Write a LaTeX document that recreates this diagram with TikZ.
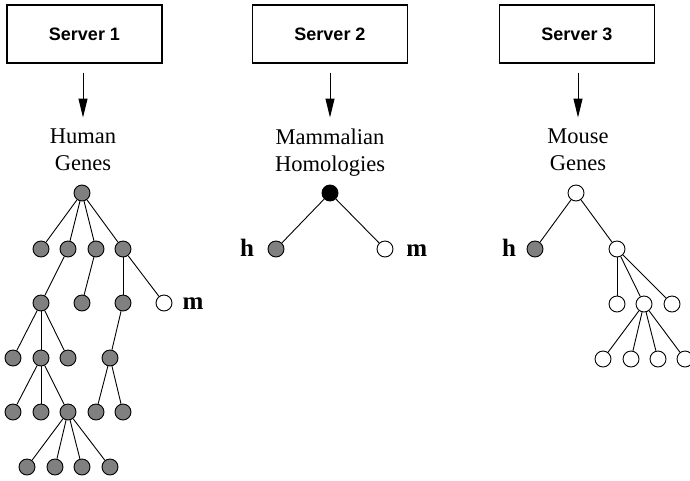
\documentclass[tikz,border=0pt]{standalone}
\usepackage{fontspec}
\setmainfont{Liberation Serif}
\setsansfont{Liberation Sans}
\usetikzlibrary{arrows.meta}
\definecolor{genegray}{RGB}{128,128,128}
\begin{document}
\begin{tikzpicture}[x=1pt,y=-1pt,
  server/.style={draw, line width=1.2pt, minimum width=155pt, minimum height=58pt,
    inner sep=0pt, font=\sffamily\bfseries\fontsize{18}{20}\selectfont},
  dbname/.style={align=center, inner sep=0pt, anchor=north,
    font=\fontsize{22.5}{26.7}\selectfont},
  feed/.style={-{Triangle[length=19pt,width=9pt]}, line width=1pt,
    shorten <=9pt, shorten >=11pt},
  gene/.style={circle, draw, line width=0.9pt, minimum size=16pt, inner sep=0pt, fill=genegray},
  mgene/.style={gene, fill=white},
  anc/.style={gene, fill=black},
  link/.style={line width=0.9pt},
  tag/.style={inner sep=0pt, anchor=base, font=\bfseries\fontsize{25}{25}\selectfont}]

\clip (0,0) rectangle (690,480);

% servers and the databases they serve
\node[server] (s1) at (84.5,33.9) {Server 1};
\node[server] (s2) at (330,33.9) {Server 2};
\node[server] (s3) at (577,33.9) {Server 3};

\node[dbname] (t1) at (83,128.5) {Human\\Genes};
\node[dbname] (t2) at (330,128.5) {Mammalian\\Homologies};
\node[dbname] (t3) at (578,128.5) {Mouse\\Genes};

\draw[feed] (s1.south -| t1.north) -- (t1.north);
\draw[feed] (s2.south -| t2.north) -- (t2.north);
\draw[feed] (s3.south -| t3.north) -- (t3.north);

% human gene tree
\node[gene] (a0) at (82,193) {};
\node[gene] (a1) at (41,249) {};
\node[gene] (a2) at (68,249) {};
\node[gene] (a3) at (96,249) {};
\node[gene] (a4) at (123,249) {};
\node[gene] (a5) at (41,303) {};
\node[gene] (a6) at (82,303) {};
\node[gene] (a7) at (123,303) {};
\node[mgene] (a8) at (164,303) {};
\node[gene] (a9) at (13,358) {};
\node[gene] (a10) at (41,358) {};
\node[gene] (a11) at (68,358) {};
\node[gene] (a12) at (110,358) {};
\node[gene] (a13) at (13,412) {};
\node[gene] (a14) at (41,412) {};
\node[gene] (a15) at (68,412) {};
\node[gene] (a16) at (96,412) {};
\node[gene] (a17) at (123,412) {};
\node[gene] (a18) at (27,467) {};
\node[gene] (a19) at (55,467) {};
\node[gene] (a20) at (82,467) {};
\node[gene] (a21) at (110,467) {};
\node[tag] (m1) at (193,309.3) {m};

\foreach \p/\c in {a0/a1,a0/a2,a0/a3,a0/a4,a2/a5,a3/a6,a4/a7,a4/a8,
  a5/a9,a5/a10,a5/a11,a7/a12,a10/a13,a10/a14,a10/a15,a12/a16,a12/a17,
  a15/a18,a15/a19,a15/a20,a15/a21}
  \draw[link] (\p) -- (\c);

% homology tree
\node[anc] (b0) at (330,193) {};
\node[gene] (b1) at (276,249) {};
\node[mgene] (b2) at (385,249) {};
\node[tag] (h2) at (247,256) {h};
\node[tag] (m2) at (416.7,256) {m};
\draw[link] (b0) -- (b1);
\draw[link] (b0) -- (b2);

% mouse gene tree
\node[mgene] (c0) at (576,193) {};
\node[gene] (c1) at (535,249) {};
\node[mgene] (c2) at (617,249) {};
\node[mgene] (c3) at (617,304) {};
\node[mgene] (c4) at (644,304) {};
\node[mgene] (c5) at (672,304) {};
\node[mgene] (c6) at (603,359) {};
\node[mgene] (c7) at (631,359) {};
\node[mgene] (c8) at (658,359) {};
\node[mgene] (c9) at (685,359) {};
\node[tag] (h3) at (509,256) {h};

\foreach \p/\c in {c0/c1,c0/c2,c2/c3,c2/c4,c2/c5,c4/c6,c4/c7,c4/c8,c4/c9}
  \draw[link] (\p) -- (\c);
\end{tikzpicture}
\end{document}
